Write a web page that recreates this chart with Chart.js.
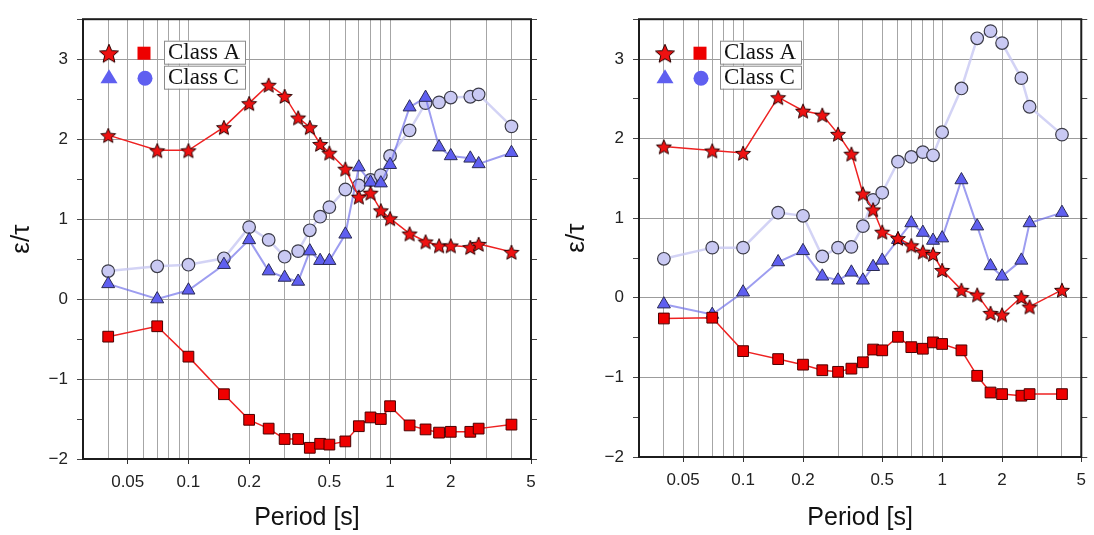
<!DOCTYPE html>
<html>
<head>
<meta charset="utf-8">
<script src="https://cdn.jsdelivr.net/npm/chart.js@4.4.1/dist/chart.umd.min.js"></script>
<style>
  body { margin: 0; background: #fff; }
  .row { display: flex; width: 1094px; height: 535px; }
  canvas { display: block; }
</style>
</head>
<body>
<div class="row">
  <canvas id="left-chart" width="547" height="535"></canvas>
  <canvas id="right-chart" width="547" height="535"></canvas>
</div>
<script>
// periods [s] shared by every series
const periods = [0.04, 0.07, 0.1, 0.15, 0.2, 0.25, 0.3, 0.35, 0.4, 0.45, 0.5, 0.6, 0.7, 0.8, 0.9, 1.0, 1.25, 1.5, 1.75, 2.0, 2.5, 2.75, 4.0];

// left panel
const leftStars = [2.05, 1.86, 1.86, 2.15, 2.45, 2.68, 2.54, 2.27, 2.15, 1.94, 1.83, 1.63, 1.28, 1.33, 1.11, 1.01, 0.82, 0.72, 0.67, 0.67, 0.65, 0.69, 0.59];
const leftSquares = [-0.47, -0.34, -0.72, -1.19, -1.51, -1.62, -1.75, -1.75, -1.86, -1.81, -1.82, -1.78, -1.59, -1.48, -1.50, -1.34, -1.58, -1.63, -1.67, -1.66, -1.66, -1.62, -1.57];
const leftTriangles = [0.19, 0.0, 0.11, 0.43, 0.74, 0.35, 0.27, 0.22, 0.60, 0.48, 0.48, 0.81, 1.65, 1.46, 1.45, 1.68, 2.40, 2.52, 1.90, 1.79, 1.76, 1.69, 1.83];
const leftCircles = [0.35, 0.41, 0.43, 0.51, 0.90, 0.74, 0.53, 0.60, 0.86, 1.03, 1.15, 1.37, 1.42, 1.49, 1.55, 1.79, 2.11, 2.45, 2.46, 2.52, 2.53, 2.56, 2.16];

// right panel
const rightStars = [1.90, 1.85, 1.82, 2.52, 2.35, 2.30, 2.06, 1.81, 1.31, 1.11, 0.83, 0.75, 0.66, 0.58, 0.55, 0.35, 0.10, 0.04, -0.19, -0.21, 0.01, -0.11, 0.10];
const rightSquares = [-0.26, -0.25, -0.67, -0.77, -0.84, -0.91, -0.93, -0.89, -0.81, -0.65, -0.66, -0.49, -0.62, -0.64, -0.56, -0.58, -0.66, -0.98, -1.19, -1.21, -1.23, -1.21, -1.21];
const rightTriangles = [-0.08, -0.21, 0.07, 0.45, 0.59, 0.27, 0.22, 0.32, 0.22, 0.39, 0.47, 0.73, 0.94, 0.82, 0.72, 0.75, 1.48, 0.90, 0.40, 0.27, 0.47, 0.94, 1.07];
const rightCircles = [0.49, 0.63, 0.63, 1.07, 1.03, 0.52, 0.63, 0.64, 0.90, 1.23, 1.32, 1.71, 1.77, 1.83, 1.79, 2.08, 2.63, 3.26, 3.35, 3.20, 2.76, 2.40, 2.05];

// axis ticks
const xGridTicks = [0.04, 0.05, 0.06, 0.07, 0.08, 0.09, 0.1, 0.2, 0.3, 0.4, 0.5, 0.6, 0.7, 0.8, 0.9, 1, 2, 3, 4, 5];
const xLabelTicks = [0.05, 0.1, 0.2, 0.5, 1, 2, 5];
const legendLabels = ['Class A', 'Class C'];

const RED = '#ee1111';
const BLUE = '#5f5ff0';
const LAVENDER = '#c9c9f3';

function starPath(ctx, cx, cy, outer, inner) {
  ctx.beginPath();
  for (let i = 0; i < 10; i++) {
    const r = i % 2 === 0 ? outer : inner;
    const a = -Math.PI / 2 + i * Math.PI / 5;
    ctx.lineTo(cx + r * Math.cos(a), cy + r * Math.sin(a));
  }
  ctx.closePath();
}

function makeStar(size, outer, outline) {
  const c = document.createElement('canvas');
  c.width = size;
  c.height = size;
  const g = c.getContext('2d');
  starPath(g, size / 2, size / 2 + 1, outer, outer * 0.45);
  g.fillStyle = RED;
  g.fill();
  if (outline) {
    g.lineWidth = 1;
    g.strokeStyle = '#2a0000';
    g.stroke();
  }
  return c;
}

const starMarker = makeStar(20, 7.8, true);
const starLegend = makeStar(22, 10, true);

const toPoints = (values) => periods.map((p, i) => ({ x: p, y: values[i] }));

const framePlugin = {
  id: 'frame',
  afterDraw(chart) {
    const { ctx, chartArea: a } = chart;
    ctx.save();
    ctx.strokeStyle = '#1c1c1c';
    ctx.lineWidth = 2;
    ctx.strokeRect(a.left, a.top, a.right - a.left, a.bottom - a.top);
    ctx.restore();
  },
};

const legendPlugin = {
  id: 'boxLegend',
  afterDraw(chart) {
    const { ctx, chartArea: a } = chart;
    const row1 = a.top + 34;
    const row2 = a.top + 58;
    ctx.save();
    // markers
    ctx.drawImage(starLegend, a.left + 26 - 11, row1 - 11);
    ctx.fillStyle = '#ee0000';
    ctx.fillRect(a.left + 61 - 6.5, row1 - 6.5, 13, 13);
    ctx.fillStyle = BLUE;
    ctx.beginPath();
    ctx.moveTo(a.left + 26, row2 - 8);
    ctx.lineTo(a.left + 26 + 8.5, row2 + 6);
    ctx.lineTo(a.left + 26 - 8.5, row2 + 6);
    ctx.closePath();
    ctx.fill();
    ctx.beginPath();
    ctx.arc(a.left + 62, row2 + 1, 7.5, 0, Math.PI * 2);
    ctx.fill();
    // boxed labels
    ctx.font = '23px "Liberation Serif", "Times New Roman", serif';
    ctx.textBaseline = 'middle';
    ctx.textAlign = 'left';
    legendLabels.forEach((label, i) => {
      const top = a.top + 21.5 + i * 25;
      ctx.fillStyle = '#fff';
      ctx.fillRect(a.left + 81, top, 81, 23);
      ctx.strokeStyle = '#8a8a8a';
      ctx.lineWidth = 1;
      ctx.strokeRect(a.left + 81.5, top + 0.5, 81, 23);
      ctx.fillStyle = '#111';
      ctx.fillText(label, a.left + 85, top + 12.5);
    });
    ctx.restore();
  },
};

function buildPanel(canvasId, stars, squares, triangles, circles, box) {
  new Chart(document.getElementById(canvasId).getContext('2d'), {
    type: 'line',
    data: {
      datasets: [
        {
          data: toPoints(stars),
          borderColor: '#ee2222',
          borderWidth: 1.5,
          pointStyle: starMarker,
          pointRadius: 8,
        },
        {
          data: toPoints(squares),
          borderColor: '#ee2222',
          borderWidth: 1.5,
          pointStyle: 'rect',
          pointRadius: 7.6,
          pointBackgroundColor: '#ee0000',
          pointBorderColor: '#4a0000',
          pointBorderWidth: 1,
        },
        {
          data: toPoints(triangles),
          borderColor: 'rgba(105, 105, 232, 0.65)',
          borderWidth: 2,
          pointStyle: 'triangle',
          pointRadius: 7.5,
          pointBackgroundColor: BLUE,
          pointBorderColor: '#2b2b55',
          pointBorderWidth: 1,
        },
        {
          data: toPoints(circles),
          borderColor: 'rgba(200, 200, 243, 0.8)',
          borderWidth: 2.5,
          pointStyle: 'circle',
          pointRadius: 6.3,
          pointBackgroundColor: LAVENDER,
          pointBorderColor: '#3c3c48',
          pointBorderWidth: 1.2,
        },
      ],
    },
    options: {
      responsive: false,
      animation: false,
      events: [],
      layout: { padding: { left: 0, top: 11, right: 0, bottom: 0 } },
      plugins: { legend: { display: false }, tooltip: { enabled: false } },
      scales: {
        x: {
          type: 'logarithmic',
          min: 0.03,
          max: 5,
          afterBuildTicks: (scale) => { scale.ticks = xGridTicks.map((v) => ({ value: v })); },
          afterFit: (scale) => { scale.height = box.xHeight; },
          ticks: {
            autoSkip: false,
            maxRotation: 0,
            padding: 8,
            color: '#222',
            font: { family: '"Liberation Sans", Arial, sans-serif', size: 17 },
            callback: (value) => (xLabelTicks.includes(value) ? String(value) : ''),
          },
          grid: {
            color: '#a6a6a6',
            lineWidth: 1,
            tickLength: 5,
            tickColor: (ctx) => (ctx.tick && xLabelTicks.includes(ctx.tick.value) ? '#333' : 'rgba(0,0,0,0)'),
          },
          border: { display: false },
          title: {
            display: true,
            text: 'Period [s]',
            color: '#111',
            font: { family: '"Liberation Sans", Arial, sans-serif', size: 25 },
            padding: { top: 2, bottom: 2 },
          },
        },
        y: {
          min: -2,
          max: 3.5,
          afterFit: (scale) => { scale.width = box.yWidth; },
          ticks: {
            stepSize: 0.5,
            autoSkip: false,
            padding: 9,
            color: '#222',
            font: { family: '"Liberation Sans", Arial, sans-serif', size: 17 },
            callback: (value) => (Number.isInteger(value) ? (value < 0 ? '\u2212' + Math.abs(value) : String(value)) : ''),
          },
          grid: {
            color: (ctx) => (ctx.tick && Number.isInteger(ctx.tick.value) ? '#9c9c9c' : 'rgba(0,0,0,0)'),
            lineWidth: 1,
            tickLength: 6,
            tickColor: '#444',
          },
          border: { display: false },
          title: {
            display: true,
            text: 'ε/τ',
            color: '#111',
            font: { family: '"Liberation Sans", Arial, sans-serif', size: 26 },
            padding: { top: box.titlePad, bottom: 0 },
          },
        },
        y2: {
          position: 'right',
          min: -2,
          max: 3.5,
          afterFit: (scale) => { scale.width = box.rightWidth; },
          ticks: { stepSize: 0.5, autoSkip: false, padding: 0, callback: () => '' },
          grid: { drawOnChartArea: false, tickLength: 6, tickColor: '#444' },
          border: { display: false },
        },
      },
    },
    plugins: [framePlugin, legendPlugin],
  });
}

buildPanel('left-chart', leftStars, leftSquares, leftTriangles, leftCircles,
  { yWidth: 83, xHeight: 76, rightWidth: 16, titlePad: 6 });
buildPanel('right-chart', rightStars, rightSquares, rightTriangles, rightCircles,
  { yWidth: 92, xHeight: 78, rightWidth: 10, titlePad: 14 });
</script>
</body>
</html>
